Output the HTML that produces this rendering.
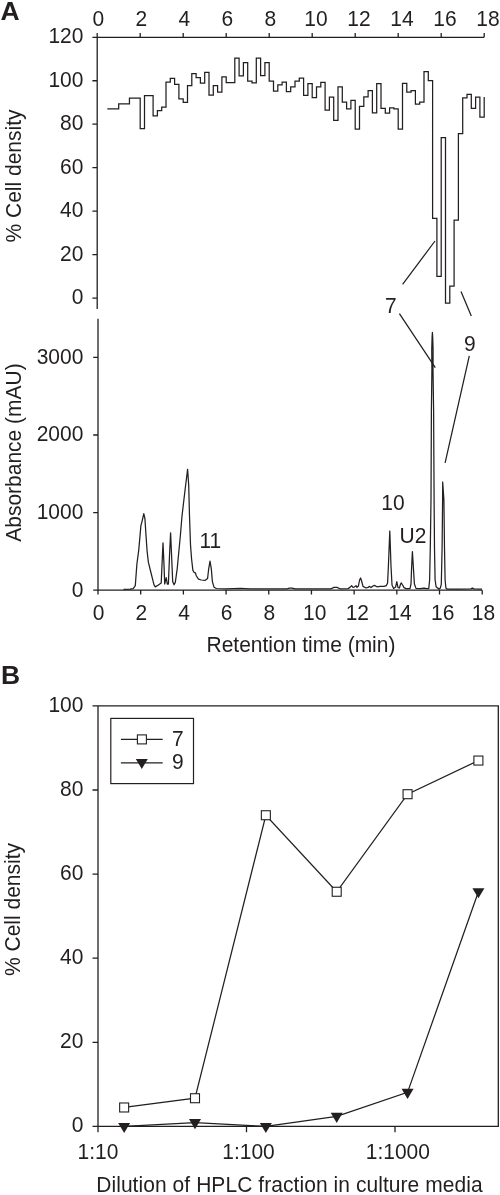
<!DOCTYPE html>
<html lang="en"><head><meta charset="utf-8"><title>Figure: HPLC fractions and cell density</title>
<style>html,body{margin:0;padding:0;background:#fff}body{width:500px;height:1195px;overflow:hidden}svg{display:block}text{font-family:"Liberation Sans",Arial,Helvetica,sans-serif;font-size:21px;fill:#231f20}.b{font-weight:bold;font-size:26.5px}.ln{fill:none;stroke:#231f20;stroke-width:1.25}.ax{fill:none;stroke:#231f20;stroke-width:1.3}.e{text-anchor:end}.m{text-anchor:middle}</style></head><body>
<svg width="500" height="1195" viewBox="0 0 500 1195">
<rect width="500" height="1195" fill="#fff"/>
<text class="b" x="0.5" y="19.5">A</text>
<text class="b" x="1" y="684.3">B</text>
<path class="ax" d="M97.2 309V37.3H484.2M97.2 37.3v-4.4M140.2 37.3v-4.4M183.2 37.3v-4.4M226.2 37.3v-4.4M269.2 37.3v-4.4M312.2 37.3v-4.4M355.2 37.3v-4.4M398.2 37.3v-4.4M441.2 37.3v-4.4M484.2 37.3v-4.4M97.2 298.06h-4.8M97.2 254.6h-4.8M97.2 211.14h-4.8M97.2 167.68h-4.8M97.2 124.22h-4.8M97.2 80.76h-4.8M97.2 37.3h-4.8"/>
<text class="m" transform="translate(98.4 26.2) scale(1 1.07)">0</text>
<text class="m" transform="translate(141.4 26.2) scale(1 1.07)">2</text>
<text class="m" transform="translate(184.4 26.2) scale(1 1.07)">4</text>
<text class="m" transform="translate(227.4 26.2) scale(1 1.07)">6</text>
<text class="m" transform="translate(270.4 26.2) scale(1 1.07)">8</text>
<text class="m" transform="translate(316 26.2) scale(1 1.07)">10</text>
<text class="m" transform="translate(359 26.2) scale(1 1.07)">12</text>
<text class="m" transform="translate(402 26.2) scale(1 1.07)">14</text>
<text class="m" transform="translate(445 26.2) scale(1 1.07)">16</text>
<text class="m" transform="translate(488 26.2) scale(1 1.07)">18</text>
<text class="e" transform="translate(83.4 304.06) scale(1 1.07)">0</text>
<text class="e" transform="translate(83.4 260.6) scale(1 1.07)">20</text>
<text class="e" transform="translate(83.4 217.14) scale(1 1.07)">40</text>
<text class="e" transform="translate(83.4 173.68) scale(1 1.07)">60</text>
<text class="e" transform="translate(83.4 130.22) scale(1 1.07)">80</text>
<text class="e" transform="translate(83.4 86.76) scale(1 1.07)">100</text>
<text class="e" transform="translate(83.4 43.3) scale(1 1.07)">120</text>
<text class="m" transform="translate(20.5 176) rotate(-90) scale(1 1.07)">% Cell density</text>
<path class="ln" d="M107.31 108.9H118.7V103.8H129.45V98.2H140.2V128.7H144.5V95.7H153.1V115.9H157.4V110.5H161.7V107.1H166V82.1H170.3V78.4H174.6V84.3H178.9V98.9H183.2V102.4H187.5V85.6H191.8V73.6H196.1V77.6H200.4V83.2H204.7V72.3H209V95.2H213.3V85.6H217.6V92H221.9V76.8H226.2V82.7H234.8V58H239.1V75.9H243.4V62.5H247.7V81.2H252V82.8H256.3V58H260.6V75.6H264.9V62.5H269.2V81.2H273.5V91.1H277.8V84.9H282.1V82H286.4V91.6H290.7V86.8H295V81.2H299.3V78.2H303.6V95.4H307.9V83.6H312.2V97.7H316.5V86.8H320.8V82.3H325.1V110H329.4V97.2H333.7V120.4H338V86.8H342.3V102H346.6V108.9H350.9V100.4H355.2V129.2H359.5V106.3H363.8V96.9H368.1V90.5H372.4V112.9H376.7V83.6H381V108.4H385.3V113.2H389.6V107.9H393.9V108.9H398.2V129.2H402.5V83.3H406.8V92.1H411.1V90.5H415.4V104.1H419.7V102H424V71.6H428.3V80.6H432.6V218.4H436.9V276.4H441.2V137.6H445.5V303H449.8V286H454.1V220H458.4V133.5H462.7V97.9H467V94.4H471.3V108.3H475.6V97.1H479.9V117.1H484.2V97.1"/>
<path class="ln" d="M435 241L402.6 284.4M399.4 313.7L435.3 367.6M461 291.4L471.3 316M469.3 355.8L445.1 462.9"/>
<text transform="translate(385 313) scale(1 1.07)">7</text>
<text transform="translate(464 350.5) scale(1 1.07)">9</text>
<text transform="translate(199.5 547.5) scale(1 1.07)">11</text>
<text transform="translate(381.3 510.2) scale(1 1.07)">10</text>
<text transform="translate(399.5 543.4) scale(1 1.07)">U2</text>
<path class="ax" d="M98 318.8V590.2H482.21M98 590.2v4.4M140.69 590.2v4.4M183.38 590.2v4.4M226.07 590.2v4.4M268.76 590.2v4.4M311.45 590.2v4.4M354.14 590.2v4.4M396.83 590.2v4.4M439.52 590.2v4.4M482.21 590.2v4.4M98 590.2h-4.8M98 512.6h-4.8M98 435h-4.8M98 357.4h-4.8"/>
<text class="m" transform="translate(98.6 619.6) scale(1 1.07)">0</text>
<text class="m" transform="translate(141.29 619.6) scale(1 1.07)">2</text>
<text class="m" transform="translate(183.98 619.6) scale(1 1.07)">4</text>
<text class="m" transform="translate(226.67 619.6) scale(1 1.07)">6</text>
<text class="m" transform="translate(269.36 619.6) scale(1 1.07)">8</text>
<text class="m" transform="translate(314.65 619.6) scale(1 1.07)">10</text>
<text class="m" transform="translate(357.34 619.6) scale(1 1.07)">12</text>
<text class="m" transform="translate(400.03 619.6) scale(1 1.07)">14</text>
<text class="m" transform="translate(442.72 619.6) scale(1 1.07)">16</text>
<text class="m" transform="translate(483.41 619.6) scale(1 1.07)">18</text>
<text class="e" transform="translate(83.4 596.6) scale(1 1.07)">0</text>
<text class="e" transform="translate(83.4 519) scale(1 1.07)">1000</text>
<text class="e" transform="translate(83.4 441.4) scale(1 1.07)">2000</text>
<text class="e" transform="translate(83.4 363.8) scale(1 1.07)">3000</text>
<text class="m" transform="translate(20.6 452.5) rotate(-90) scale(1 1.07)">Absorbance (mAU)</text>
<path class="ln" stroke-linejoin="round" d="M123.6 589.4L130 589.1L133.2 588.6L135.3 585.6L136.9 564L138.8 549.6L140.9 525.6L142 521.6L143.8 513.6L144.9 518.4L146 535.2L147.1 551.2L148.4 562.4L150.8 572L154 584.8L155.3 586.9L158 585.3L161.2 582.9L161.7 572L163 542.9L163.9 562.4L164.7 584L166.2 577.6L167.3 584L168.4 584L169.5 556L170.6 532.8L171.6 556L172.7 581.6L174 584.8L175.3 582.4L177.2 568.8L180.4 535.2L182 516L185.2 488.8L187.6 469.4L188.7 485L189.5 516L190.5 544.8L191.6 559.2L192.9 570.4L194 572.3L195.3 572.8L196.4 576L198.5 579.2L201.2 580L205.2 580.3L207.6 578.4L208.7 568.8L210 561.1L211.3 568.8L212.4 581.6L214 587.2L216.4 588.5L226 588.8L240.4 588.4L250 588.8L270 588.9L287 588.9L289.5 588.2L292 588.1L295 588.9L320 588.8L331 588.8L334 587.4L337 587.4L340 588.8L348 588.6L350 587.4L351.6 585.6L353 587.4L354.4 587L356 585.6L357 587.4L358.4 586L359.6 580L360.6 578L361.6 581L363 586.4L366 588L368 587.4L369.6 586.4L371 587.6L373 586L374.4 585.4L377 586.8L380 586.4L384 586.4L386.4 585.6L387.6 583L388.4 566L389.8 531L391 566L392 585L393.6 588.4L395.6 587L396.8 581.6L398 587.6L399.4 588L400.6 584L401.4 583L402.6 585L404 587.6L406 588.6L410 588.6L411 584L411.6 568L412.4 551.6L413.4 568L414.4 584L416 588.4L420 588.6L424 588.2L427 588.6L428.8 588.4L429.6 580.3L430.3 548L431 500L431.4 410L431.9 370L431.75 350L432.1 337L432.4 332.4L432.7 337L433.1 350L433 370L433.6 410L434.1 500L434.5 548L435.1 580L436.1 586.7L438.1 588.4L439.3 589.1L440.3 588L441.3 584.3L442.1 548L442.6 500L442.7 482L443.9 500L444.5 548L445.1 580L445.9 588L447 589L460 589L471 588.9L472.4 588.1L474 588.9L482 589.1"/>
<text transform="translate(206.5 651.7) scale(1 1.07)">Retention time (min)</text>
<path class="ax" d="M98 705.9H498.3V1126.4H98ZM98 1126.4h-5.5M98 1042.3h-5.5M98 958.2h-5.5M98 874.1h-5.5M98 790h-5.5M98 705.9h-5.5M98 1126.4v5.8M246.5 1126.4v5.8M395 1126.4v5.8"/>
<text class="e" transform="translate(83.4 1132) scale(1 1.07)">0</text>
<text class="e" transform="translate(83.4 1047.9) scale(1 1.07)">20</text>
<text class="e" transform="translate(83.4 963.8) scale(1 1.07)">40</text>
<text class="e" transform="translate(83.4 879.7) scale(1 1.07)">60</text>
<text class="e" transform="translate(83.4 795.6) scale(1 1.07)">80</text>
<text class="e" transform="translate(83.4 711.5) scale(1 1.07)">100</text>
<text class="m" transform="translate(98 1158.6) scale(1 1.07)">1:10</text>
<text class="m" transform="translate(248.5 1158.6) scale(1 1.07)">1:100</text>
<text class="m" transform="translate(397.8 1158.6) scale(1 1.07)">1:1000</text>
<text class="m" transform="translate(20.2 909.5) rotate(-90) scale(1 1.07)">% Cell density</text>
<text transform="translate(96.2 1192.4) scale(1 1.07)" style="letter-spacing:0.065px">Dilution of HPLC fraction in culture media</text>
<path class="ln" d="M124.15 1107.48L195 1098.23L265.85 815.23L336.71 891.76L407.56 794.2L478.41 760.56"/>
<path class="ln" d="M124.15 1126.4L195 1122.62L265.85 1126.4L336.71 1116.31L407.56 1092.34L478.41 891.76"/>
<rect x="119.65" y="1102.98" width="9" height="9" fill="#fff" stroke="#231f20" stroke-width="1.1"/>
<rect x="190.5" y="1093.73" width="9" height="9" fill="#fff" stroke="#231f20" stroke-width="1.1"/>
<rect x="261.35" y="810.73" width="9" height="9" fill="#fff" stroke="#231f20" stroke-width="1.1"/>
<rect x="332.21" y="887.26" width="9" height="9" fill="#fff" stroke="#231f20" stroke-width="1.1"/>
<rect x="403.06" y="789.7" width="9" height="9" fill="#fff" stroke="#231f20" stroke-width="1.1"/>
<rect x="473.91" y="756.06" width="9" height="9" fill="#fff" stroke="#231f20" stroke-width="1.1"/>
<path d="M118.15 1122.9h12l-6 10.1z" fill="#231f20"/>
<path d="M189 1119.12h12l-6 10.1z" fill="#231f20"/>
<path d="M259.85 1122.9h12l-6 10.1z" fill="#231f20"/>
<path d="M330.71 1112.81h12l-6 10.1z" fill="#231f20"/>
<path d="M401.56 1088.84h12l-6 10.1z" fill="#231f20"/>
<path d="M472.41 888.26h12l-6 10.1z" fill="#231f20"/>
<rect x="110.8" y="718.4" width="82.7" height="65.2" fill="#fff" stroke="#231f20" stroke-width="1.2"/>
<path class="ln" d="M120.9 739.4H162.7M120.9 762.9H162.7"/>
<rect x="137.4" y="734.9" width="9" height="9" fill="#fff" stroke="#231f20" stroke-width="1.1"/>
<path d="M135.8 758.9h12l-6 10.1z" fill="#231f20"/>
<text transform="translate(172 746) scale(1 1.07)">7</text>
<text transform="translate(172 769.2) scale(1 1.07)">9</text>
</svg></body></html>
